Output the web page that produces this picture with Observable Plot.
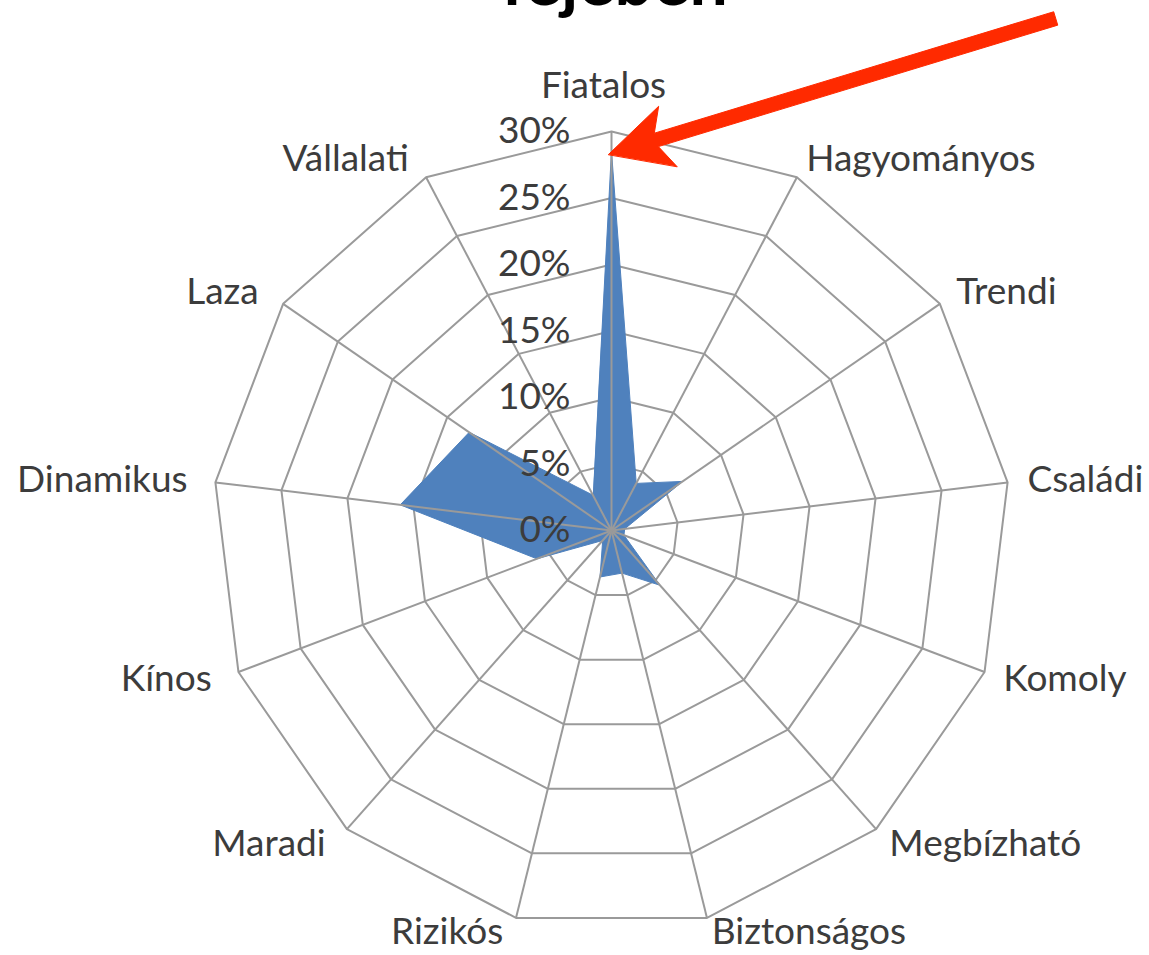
<!DOCTYPE html>
<html>
<head>
<meta charset="utf-8">
<script src="https://cdn.jsdelivr.net/npm/d3@7"></script>
<script src="https://cdn.jsdelivr.net/npm/@observablehq/plot@0.6"></script>
<style>
  html, body { margin: 0; padding: 0; background: #ffffff; }
  #chart { width: 1149px; height: 955px; overflow: hidden; }
</style>
</head>
<body>
<div id="chart"></div>
<script>
// ---- data ----
const title = "fejében";
const categories = ["Fiatalos", "Hagyományos", "Trendi", "Családi", "Komoly", "Megbízható",
  "Biztonságos", "Rizikós", "Maradi", "Kínos", "Dinamikus", "Laza", "Vállalati"];
const values = [28.5, 4, 6.5, 1, 1, 5.5, 3.3, 3.6, 1, 6, 16, 13, 3];
const ticks = [0, 5, 10, 15, 20, 25, 30];
const tickLabels = ["0%", "5%", "10%", "15%", "20%", "25%", "30%"];
// annotation arrow tail (in chart value units), head points at the "Fiatalos" value
const arrowTail = [33.4, 38.5];

// ---- geometry helpers ----
const maxV = 30;
const cx = 611, cy = 530, R = 399;       // layout of the plot frame
const k = maxV / R;                       // value units per pixel
const n = categories.length;
const ang = i => (2 * Math.PI * i) / n;
const px = (v, i) => v * Math.sin(ang(i));
const py = (v, i) => v * Math.cos(ang(i));

const rings = ticks.filter(t => t > 0).flatMap(t =>
  categories.map((c, i) => ({level: t, x: px(t, i), y: py(t, i)})));
const pts = values.map((v, i) => ({x: px(v, i), y: py(v, i)}));
const spokes = categories.map((c, i) => ({x2: px(maxV, i), y2: py(maxV, i)}));

const off = 20 * k;
const labels = categories.map((c, i) => {
  const s = Math.sin(ang(i));
  const co = Math.cos(ang(i));
  return {
    name: c,
    x: px(maxV + off, i),
    y: py(maxV + off, i) + (co < -0.9 ? 5 * k : 0),
    side: Math.abs(s) < 0.05 ? "mid" : s > 0 ? "right" : "left"
  };
});

// arrow polygon (value units)
const tip = [pts[0].x - 3 * k, pts[0].y - 3 * k];
const dxA = arrowTail[0] - tip[0], dyA = arrowTail[1] - tip[1];
const len = Math.hypot(dxA, dyA);
const u = [dxA / len, dyA / len];
const nv = [-u[1], u[0]];
const P = (base, a, b) => ({x: base[0] + u[0] * a * k + nv[0] * b * k, y: base[1] + u[1] * a * k + nv[1] * b * k});
const arrow = [
  P(tip, 0, 0),
  P(tip, 62, 31.5),
  P(tip, 50, 7),
  P(arrowTail, 0, 7),
  P(arrowTail, 0, -7),
  P(tip, 50, -7),
  P(tip, 62, -31.5)
];

const grid = "#9a9a9a";
const textColor = "#3c3c3c";
const fs = 37;

const chart = Plot.plot({
  width: 1149,
  height: 955,
  margin: 0,
  style: {fontFamily: "Lato, 'Open Sans', sans-serif", background: "#ffffff"},
  x: {domain: [-maxV, maxV], range: [cx - R, cx + R], axis: null},
  y: {domain: [-maxV, maxV], range: [cy + R, cy - R], axis: null},
  marks: [
    Plot.line(rings, {x: "x", y: "y", z: "level", curve: "linear-closed", stroke: grid, strokeWidth: 2}),
    Plot.line(pts, {x: "x", y: "y", curve: "linear-closed", fill: "#4f81bd", stroke: "#4f81bd", strokeWidth: 1}),
    Plot.link(spokes, {x1: 0, y1: 0, x2: "x2", y2: "y2", stroke: grid, strokeWidth: 2}),
    Plot.text(ticks, {x: 0, y: d => d, text: (d, i) => tickLabels[i], textAnchor: "end", dx: -41,
      fontSize: fs, fill: textColor}),
    Plot.text(labels, {filter: d => d.side === "right", x: "x", y: "y", text: "name", textAnchor: "start",
      fontSize: fs, fill: textColor}),
    Plot.text(labels, {filter: d => d.side === "left", x: "x", y: "y", text: "name", textAnchor: "end", dx: -8,
      fontSize: fs, fill: textColor}),
    Plot.text(labels, {filter: d => d.side === "mid", x: 0, y: maxV, text: "name", textAnchor: "middle",
      lineAnchor: "bottom", dx: -8, dy: -34, fontSize: fs, fill: textColor}),
    Plot.line(arrow, {x: "x", y: "y", curve: "linear-closed", fill: "#ff2a00", stroke: "#ff2a00", strokeWidth: 1}),
    Plot.text([title], {x: 0, frameAnchor: "top", text: d => d, lineAnchor: "bottom", dy: 4, dx: 3,
      fontSize: 68, fontWeight: "bold", fill: "#000000"})
  ]
});
document.getElementById("chart").appendChild(chart);
</script>
</body>
</html>
